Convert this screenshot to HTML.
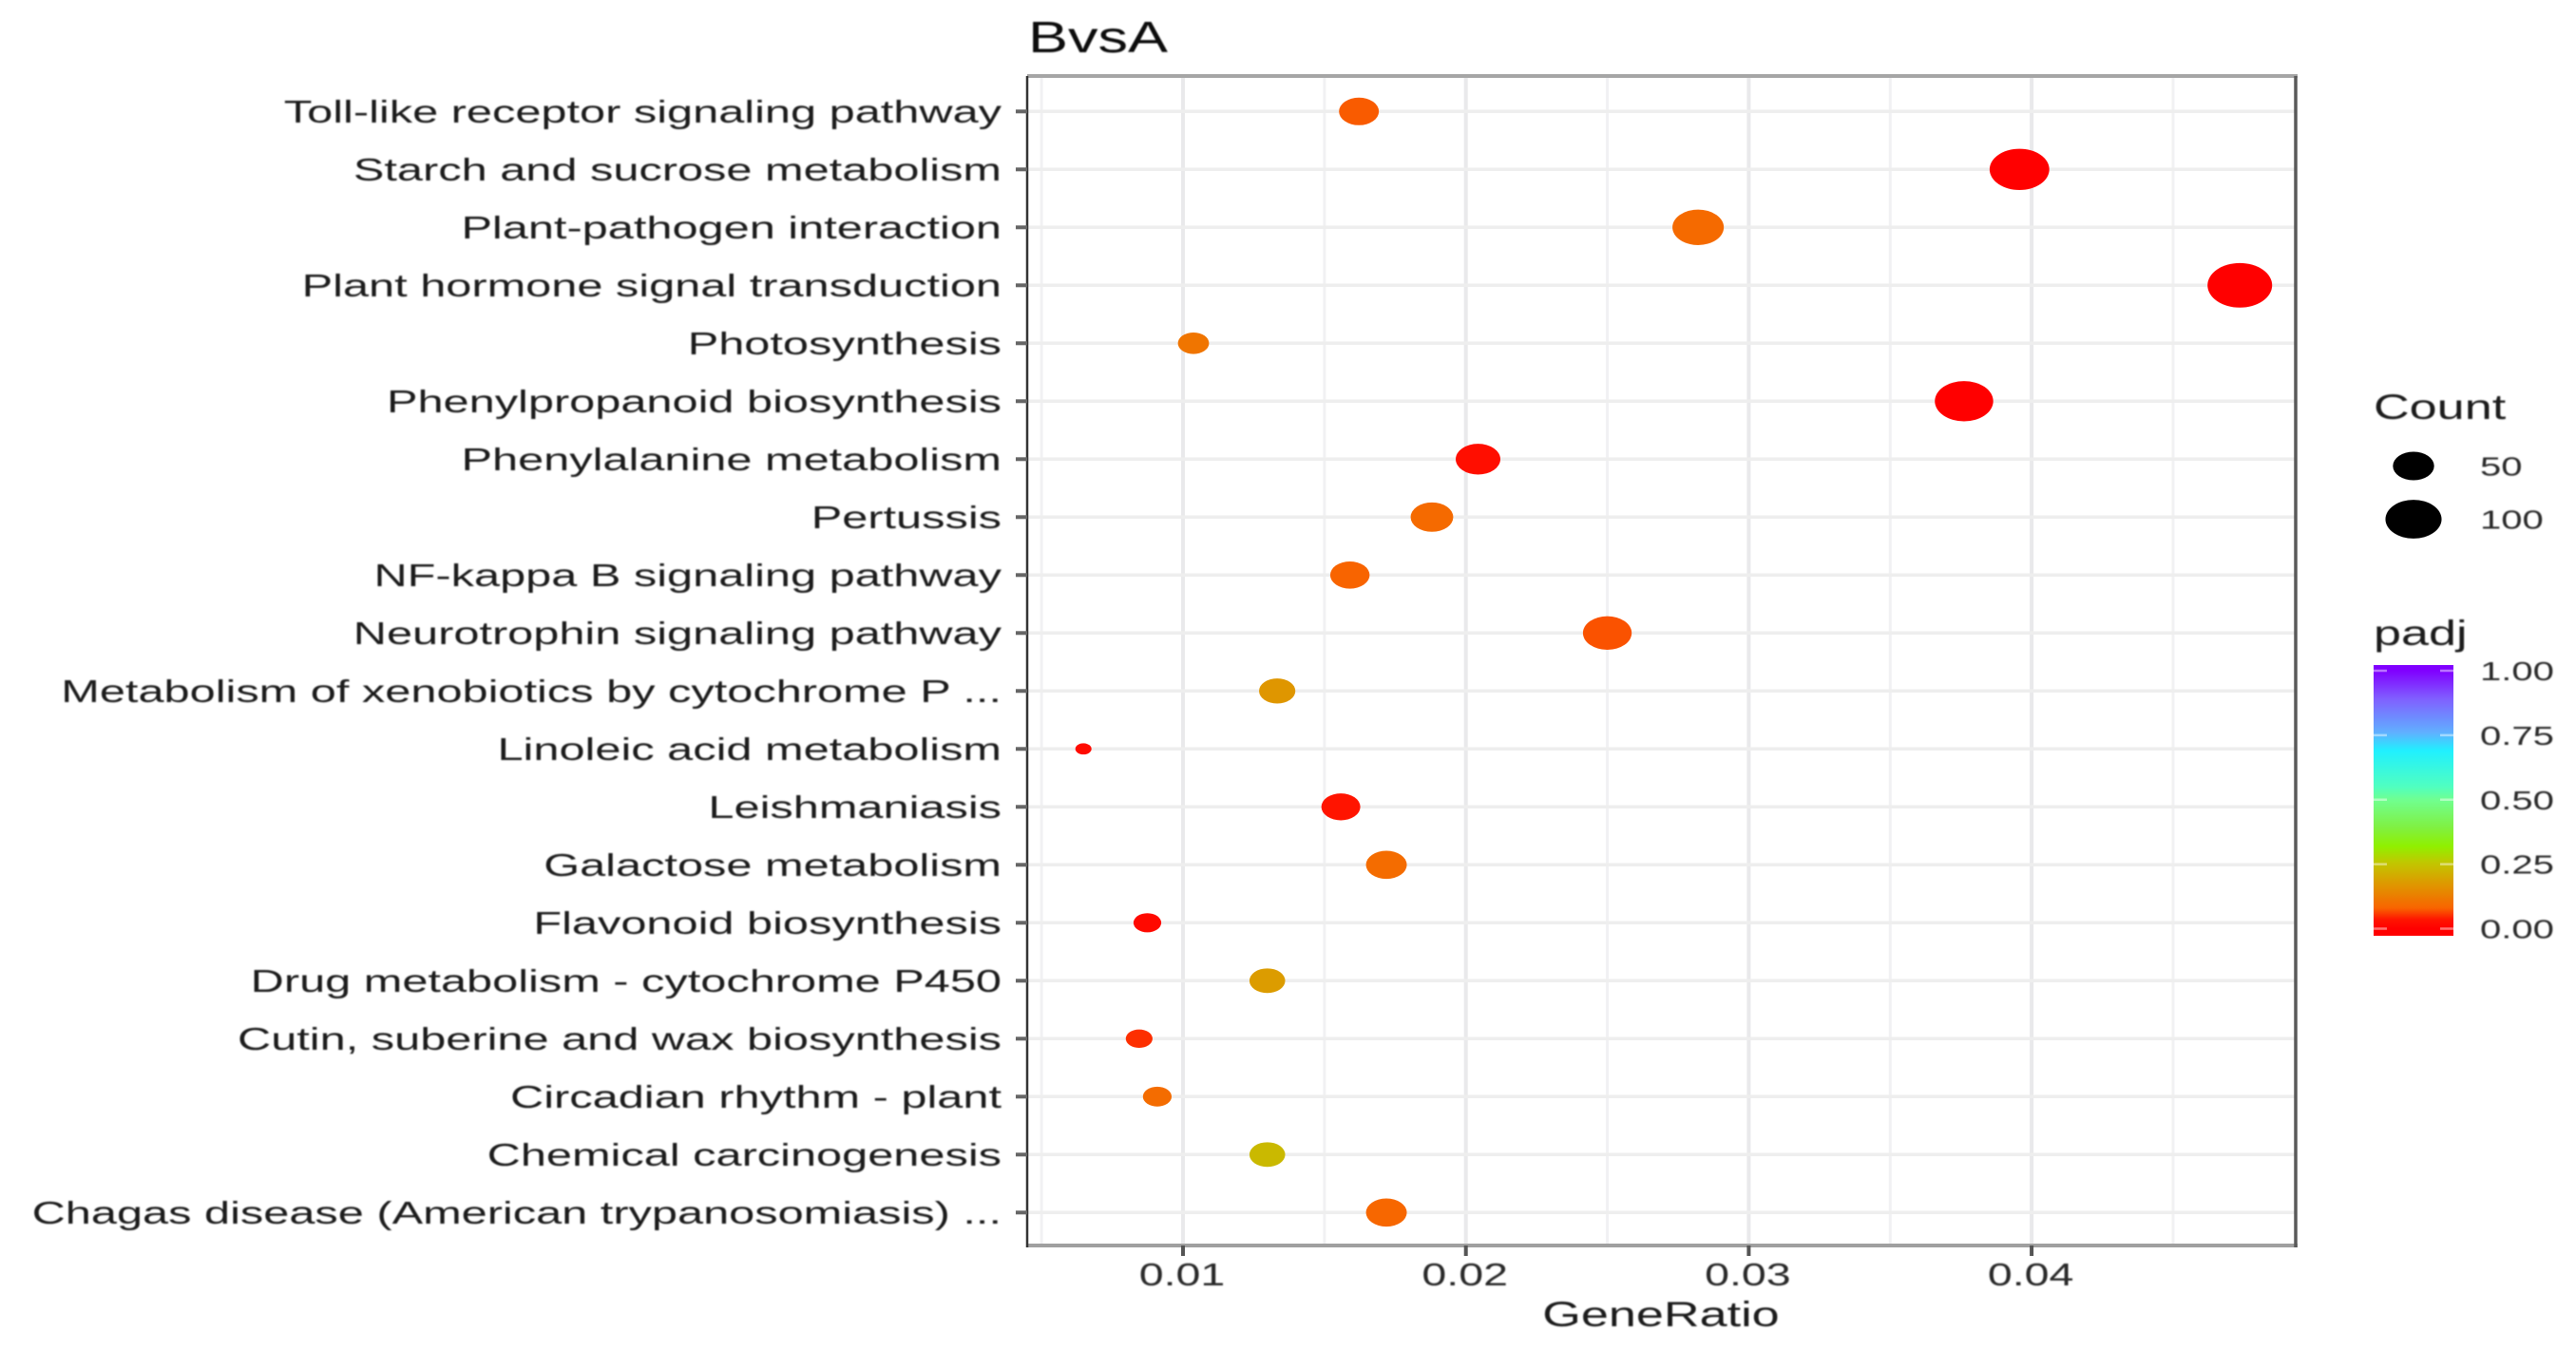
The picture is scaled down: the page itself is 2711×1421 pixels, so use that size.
<!DOCTYPE html>
<html lang="en">
<head>
<meta charset="utf-8">
<title>BvsA GeneRatio dot plot</title>
<style>
html,body{margin:0;padding:0;background:#fff;width:2711px;height:1421px;overflow:hidden}
svg{display:block}
text{font-family:"Liberation Sans",sans-serif}
</style>
</head>
<body>
<svg id="chart" xmlns="http://www.w3.org/2000/svg" width="2711" height="1421" viewBox="0 0 2711 1421">
<defs>
<filter id="soft" x="-5%" y="-20%" width="110%" height="140%"><feGaussianBlur stdDeviation="0.9"/></filter>
<linearGradient id="padj-ramp" x1="0" y1="1" x2="0" y2="0"></linearGradient>
</defs>
<rect width="2711" height="1421" fill="#fff"/>
<g id="grid"></g>
<g id="dots"></g>
<g id="frame"></g>
<g id="labels" filter="url(#soft)"></g>
<g id="legend"></g>
</svg>
<script>
// ---- data ----
const categories = ["Toll-like receptor signaling pathway","Starch and sucrose metabolism","Plant-pathogen interaction","Plant hormone signal transduction","Photosynthesis","Phenylpropanoid biosynthesis","Phenylalanine metabolism","Pertussis","NF-kappa B signaling pathway","Neurotrophin signaling pathway","Metabolism of xenobiotics by cytochrome P ...","Linoleic acid metabolism","Leishmaniasis","Galactose metabolism","Flavonoid biosynthesis","Drug metabolism - cytochrome P450","Cutin, suberine and wax biosynthesis","Circadian rhythm - plant","Chemical carcinogenesis","Chagas disease (American trypanosomiasis) ..."];
const geneRatio = [0.01622,0.03957,0.02821,0.04736,0.01037,0.03761,0.02043,0.01880,0.01590,0.02500,0.01333,0.00648,0.01558,0.01719,0.00874,0.01298,0.00845,0.00909,0.01298,0.01719];
const counts = [41,100,71,120,26,95,52,47,40,63,34,16,39,43,22,33,21,23,33,43];
const padj = [0.075,0,0.09,0,0.11,0,0.025,0.09,0.08,0.07,0.17,0.02,0.035,0.095,0.015,0.18,0.05,0.095,0.23,0.085];
const xTicks = [0.01,0.02,0.03,0.04];
const xTickLabels = ["0.01","0.02","0.03","0.04"];
const xMinor = [0.005,0.015,0.025,0.035,0.045];
const sizeBreaks = [50,100];
const colorBreaks = [0,0.25,0.5,0.75,1];
const colorBreakLabels = ["0.00","0.25","0.50","0.75","1.00"];

// ---- scales ----
const P = {l:1081, r:2416, t:80, b:1311};
const SX = 1.41;
const SX_Y = 1.476;
function xScale(v){ return 1245 + (v - 0.01) * 29770; }
function yScale(i){ return 117.3 + i * 61; }
function rxScale(c){
  const cMin = 16, cMax = 120;
  return 8.5 + (34 - 8.5) * Math.sqrt(Math.max(0, (c - cMin) / (cMax - cMin)));
}
const ASPECT = 0.69;
function barY(p){ return 977.5 - p * 271.5; }
const ramp = [[0,"#ff0000"],[0.035,"#ff1400"],[0.08,"#f86400"],[0.18,"#dc9c00"],[0.257,"#c0c800"],[0.32,"#90f000"],[0.39,"#80f040"],[0.5,"#70ff90"],[0.55,"#50ffc0"],[0.69,"#20f0ff"],[0.76,"#60b0ff"],[0.89,"#8060ff"],[1,"#8000ff"]];
function hex(c){ return [1,3,5].map(i => parseInt(c.substr(i,2),16)); }
function colorScale(p){
  for (let i = 1; i < ramp.length; i++) {
    if (p <= ramp[i][0]) {
      const t = (p - ramp[i-1][0]) / (ramp[i][0] - ramp[i-1][0]);
      const a = hex(ramp[i-1][1]), b = hex(ramp[i][1]);
      return "rgb(" + a.map((v,k) => Math.round(v + (b[k]-v)*t)).join(",") + ")";
    }
  }
  return ramp[ramp.length-1][1];
}

// ---- helpers ----
const NS = "http://www.w3.org/2000/svg";
function mk(parent, tag, attrs){
  const el = document.createElementNS(NS, tag);
  for (const k in attrs) el.setAttribute(k, attrs[k]);
  parent.appendChild(el);
  return el;
}
function label(parent, str, x, y, size, anchor, fill, sx){
  const el = mk(parent, "text", {"font-size":size, "text-anchor":anchor, fill:fill, transform:"translate("+x+","+y+") scale("+(sx||SX)+",1)"});
  el.textContent = str;
  return el;
}
const grid = document.getElementById("grid"), dots = document.getElementById("dots"),
      frame = document.getElementById("frame"), labels = document.getElementById("labels"),
      legend = document.getElementById("legend");

// ---- grid ----
xMinor.forEach(v => {
  const el = mk(grid, "line", {x1:xScale(v), x2:xScale(v), y1:P.t, y2:P.b, stroke:"#f1f1f3", "stroke-width":3});
  
  
});
xTicks.forEach(v => {
  const el = mk(grid, "line", {x1:xScale(v), x2:xScale(v), y1:P.t, y2:P.b, stroke:"#e9e9eb", "stroke-width":4});
  
  
});
categories.forEach((c,i) => {
  const el = mk(grid, "line", {x1:P.l, x2:P.r, y1:yScale(i), y2:yScale(i), stroke:"#eeeeee", "stroke-width":3.5});
  
  
});

// ---- dots ----
categories.forEach((c,i) => {
  const rx = rxScale(counts[i]);
  const el = mk(dots, "ellipse", {cx:xScale(geneRatio[i]), cy:yScale(i), rx:rx, ry:rx*ASPECT, fill:colorScale(padj[i])});
  
  
});

// ---- frame ----
const fT = mk(frame, "line", {x1:P.l, x2:P.r+2, y1:P.t, y2:P.t, stroke:"#a6a6a6", "stroke-width":4});


const fB = mk(frame, "line", {x1:P.l, x2:P.r+2, y1:P.b, y2:P.b, stroke:"#a0a0a0", "stroke-width":4});


const fL = mk(frame, "line", {x1:P.l, x2:P.l, y1:P.t, y2:P.b+2, stroke:"#333", "stroke-width":2.5});


const fR = mk(frame, "line", {x1:P.r, x2:P.r, y1:P.t, y2:P.b+2, stroke:"#5a5a5a", "stroke-width":3.5});



categories.forEach((c,i) => {
  const t = mk(frame, "line", {x1:1069, x2:P.l, y1:yScale(i), y2:yScale(i), stroke:"#666", "stroke-width":4});
  
  
  const l = label(labels, c, 1054, yScale(i)+11.5, 33, "end", "#1c1c1c", SX_Y);
  
  
});
xTicks.forEach((v,i) => {
  const t = mk(frame, "line", {x1:xScale(v), x2:xScale(v), y1:P.b, y2:P.b+11, stroke:"#555", "stroke-width":4});
  
  
  const l = label(labels, xTickLabels[i], xScale(v)-1, 1353, 33, "middle", "#2a2a2a");
  
  
});
const xTitle = label(labels, "GeneRatio", 1748, 1396, 37, "middle", "#1c1c1c");


const title = label(labels, "BvsA", 1082, 55, 46, "start", "#111", 1.37);



// ---- legends ----
const lg = mk(legend, "g", {filter:"url(#soft)"});
const cTitle = label(lg, "Count", 2498, 441, 37, "start", "#1c1c1c");


const sizeY = [490.5, 546.5];
sizeBreaks.forEach((c,i) => {
  const rx = rxScale(c);
  const d = mk(legend, "ellipse", {cx:2540, cy:sizeY[i], rx:rx*0.94, ry:rx*0.94*ASPECT, fill:"#000"});
  
  
  const l = label(lg, String(c), 2610, sizeY[i]+10, 28, "start", "#2a2a2a", 1.43);
  
  
});
const pTitle = label(lg, "padj", 2498, 679, 37, "start", "#1c1c1c");



const grad = document.getElementById("padj-ramp");
grad.setAttribute('x1','0'); grad.setAttribute('x2','0');
grad.setAttribute('gradientUnits','userSpaceOnUse');
grad.setAttribute('y1', barY(0)); grad.setAttribute('y2', barY(1));
ramp.forEach(s => mk(grad, "stop", {offset:s[0], "stop-color":s[1]}));
const bar = mk(legend, "rect", {x:2498, y:700, width:84, height:285, fill:"url(#padj-ramp)"});


colorBreaks.forEach((p,i) => {
  const a = mk(legend, "line", {x1:2498, x2:2512, y1:barY(p), y2:barY(p), stroke:"#fff", "stroke-opacity":0.45, "stroke-width":2.5});
  
  
  const b = mk(legend, "line", {x1:2568, x2:2582, y1:barY(p), y2:barY(p), stroke:"#fff", "stroke-opacity":0.45, "stroke-width":2.5});
  
  
  const l = label(lg, colorBreakLabels[i], 2610, barY(p)+10, 28, "start", "#2a2a2a", 1.43);
  
  
});
</script>
</body>
</html>
